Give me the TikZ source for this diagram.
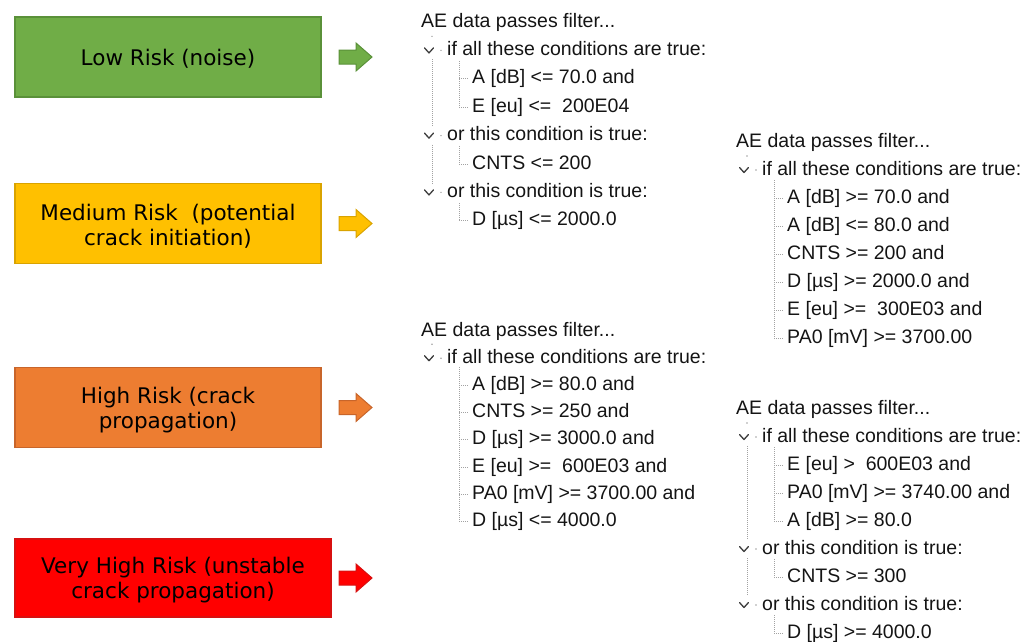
\documentclass[tikz,border=0pt]{standalone}
\usepackage{fontspec}
\setmainfont{Liberation Sans}
\newfontfamily\boxfont{DejaVu Sans}
\usetikzlibrary{calc}

\definecolor{lowfill}{HTML}{70AD47}
\definecolor{lowline}{HTML}{5A9139}
\definecolor{medfill}{HTML}{FFC000}
\definecolor{medline}{HTML}{D9A300}
\definecolor{highfill}{HTML}{ED7D31}
\definecolor{highline}{HTML}{C8652A}
\definecolor{vhfill}{HTML}{FF0000}
\definecolor{vhline}{HTML}{D81010}
\definecolor{treecol}{HTML}{A2A2A2}
\definecolor{chevcol}{HTML}{3C3C3C}
\definecolor{textcol}{HTML}{141414}

\begin{document}
\begin{tikzpicture}[x=1pt,y=-1pt,
  tt/.style={anchor=west,inner sep=0pt,text=textcol,
    font=\fontsize{19.5}{23}\selectfont,text height=14pt,text depth=4pt},
  riskbox/.style={draw,line width=1.2pt,minimum width=306pt,minimum height=80pt,
    inner sep=0pt},
  risklabel/.style={inner sep=0pt,align=center,text=black,
    font=\boxfont\fontsize{21.5}{25}\selectfont},
  blockarrow/.style={line width=1pt,line join=miter},
  tree/.style={draw=treecol,line width=0.9pt,dash pattern=on 1pt off 1pt},
  chev/.style={draw=chevcol,line width=1.3pt,line cap=round,line join=round},
  treedot/.style={fill=treecol}
]
\useasboundingbox (0,0) rectangle (1034,641);

% ---------- risk categories ----------
\node[riskbox,fill=lowfill,draw=lowline] (low) at (168,57) {};
\node[riskbox,fill=medfill,draw=medline] (med) at (168,223.5) {};
\node[riskbox,fill=highfill,draw=highline] (high) at (168,407.5) {};
\node[riskbox,fill=vhfill,draw=vhline,minimum width=316pt,minimum height=78pt] (vhigh) at (173,578) {};

\node[risklabel] (low-t) at ([yshift=-2pt]low.center) {Low Risk (noise)};
\node[risklabel] (med-t) at ([yshift=-2.5pt]med.center) {Medium Risk\ \ (potential\\crack initiation)};
\node[risklabel] (high-t) at ([yshift=-2.5pt]high.center) {High Risk (crack\\propagation)};
\node[risklabel] (vhigh-t) at ([yshift=-2.5pt]vhigh.center) {Very High Risk (unstable\\crack propagation)};

% block arrows pointing to the filters
\coordinate (ax) at (339,0);
\foreach \b/\f/\l in {low/lowfill/lowline,med/medfill/medline,high/highfill/highline,vhigh/vhfill/vhline}{
  \draw[blockarrow,fill=\f,draw=\l] ($(\b.east -| ax)+(0,-7)$) -- ++(17,0) -- ++(0,-7)
    -- ++(16,14) -- ++(-16,14) -- ++(0,-7) -- ++(-17,0) -- cycle;
}

% ---------- filter 1 ----------
\begin{scope}[shift={(421,22)}]
  \node[tt] (a-root) at (0,0) {AE data passes filter...};
  \node[tt] (a-g1) at (26,28.4) {if all these conditions are true:};
  \node[tt] (a-c1) at (51,56.8) {A [dB] <= 70.0 and};
  \node[tt] (a-c2) at (51,85.2) {E [eu] <=\ \ 200E04};
  \node[tt] (a-g2) at (26,113.6) {or this condition is true:};
  \node[tt] (a-c3) at (51,142) {CNTS <= 200};
  \node[tt] (a-g3) at (26,170.4) {or this condition is true:};
  \node[tt] (a-c4) at (51,198.8) {D [µs] <= 2000.0};
\end{scope}

% ---------- filter 2 ----------
\begin{scope}[shift={(736,142)}]
  \node[tt] (b-root) at (0,0) {AE data passes filter...};
  \node[tt] (b-g1) at (26,28) {if all these conditions are true:};
  \node[tt] (b-c1) at (51,56) {A [dB] >= 70.0 and};
  \node[tt] (b-c2) at (51,84) {A [dB] <= 80.0 and};
  \node[tt] (b-c3) at (51,112) {CNTS >= 200 and};
  \node[tt] (b-c4) at (51,140) {D [µs] >= 2000.0 and};
  \node[tt] (b-c5) at (51,168) {E [eu] >=\ \ 300E03 and};
  \node[tt] (b-c6) at (51,196) {PA0 [mV] >= 3700.00};
\end{scope}

% ---------- filter 3 ----------
\begin{scope}[shift={(421,331)}]
  \node[tt] (c-root) at (0,0) {AE data passes filter...};
  \node[tt] (c-g1) at (26,27.2) {if all these conditions are true:};
  \node[tt] (c-c1) at (51,54.4) {A [dB] >= 80.0 and};
  \node[tt] (c-c2) at (51,81.6) {CNTS >= 250 and};
  \node[tt] (c-c3) at (51,108.8) {D [µs] >= 3000.0 and};
  \node[tt] (c-c4) at (51,136) {E [eu] >=\ \ 600E03 and};
  \node[tt] (c-c5) at (51,163.2) {PA0 [mV] >= 3700.00 and};
  \node[tt] (c-c6) at (51,190.4) {D [µs] <= 4000.0};
\end{scope}

% ---------- filter 4 ----------
\begin{scope}[shift={(736,409)}]
  \node[tt] (d-root) at (0,0) {AE data passes filter...};
  \node[tt] (d-g1) at (26,28) {if all these conditions are true:};
  \node[tt] (d-c1) at (51,56) {E [eu] >\ \ 600E03 and};
  \node[tt] (d-c2) at (51,84) {PA0 [mV] >= 3740.00 and};
  \node[tt] (d-c3) at (51,112) {A [dB] >= 80.0};
  \node[tt] (d-g2) at (26,140) {or this condition is true:};
  \node[tt] (d-c4) at (51,168) {CNTS >= 300};
  \node[tt] (d-g3) at (26,196) {or this condition is true:};
  \node[tt] (d-c5) at (51,224) {D [µs] >= 4000.0};
\end{scope}

% ---------- tree decorations ----------
% expand chevrons and the stub dot beside each condition group
\foreach \g in {a-g1,a-g2,a-g3,b-g1,c-g1,d-g1,d-g2,d-g3}{
  \draw[chev] ([xshift=-18pt]\g.west) +(-4.5,-2.5) -- +(0,2.5) -- +(4.5,-2.5);
  \fill[treedot] ([xshift=-6pt]\g.west) circle (0.8pt);
}
% small dot under each root
\foreach \g in {a-g1,b-g1,c-g1,d-g1}
  \fill[treedot] ([xshift=-15pt,yshift=14pt]\g.west) circle (0.8pt);

% links between sibling groups
\draw[tree] ([xshift=-15pt,yshift=-9pt]a-g1.west) -- ([xshift=-15pt,yshift=9pt]a-g2.west);
\draw[tree] ([xshift=-15pt,yshift=-9pt]a-g2.west) -- ([xshift=-15pt,yshift=9pt]a-g3.west);
\draw[tree] ([xshift=-15pt,yshift=-9pt]d-g1.west) -- ([xshift=-15pt,yshift=9pt]d-g2.west);
\draw[tree] ([xshift=-15pt,yshift=-9pt]d-g2.west) -- ([xshift=-15pt,yshift=9pt]d-g3.west);

% child branches: vertical run from the group, tick to each condition
\foreach \first/\last in {a-c1/a-c2,a-c3/a-c3,a-c4/a-c4,b-c1/b-c6,c-c1/c-c6,d-c1/d-c3,d-c4/d-c4,d-c5/d-c5}
  \draw[tree] ([xshift=-13pt,yshift=18pt]\first.west) -- ([xshift=-13pt]\last.west);
\foreach \c in {a-c1,a-c2,a-c3,a-c4,b-c1,b-c2,b-c3,b-c4,b-c5,b-c6,
                c-c1,c-c2,c-c3,c-c4,c-c5,c-c6,d-c1,d-c2,d-c3,d-c4,d-c5}
  \draw[tree] ([xshift=-13pt]\c.west) -- ([xshift=-3pt]\c.west);

\end{tikzpicture}
\end{document}
